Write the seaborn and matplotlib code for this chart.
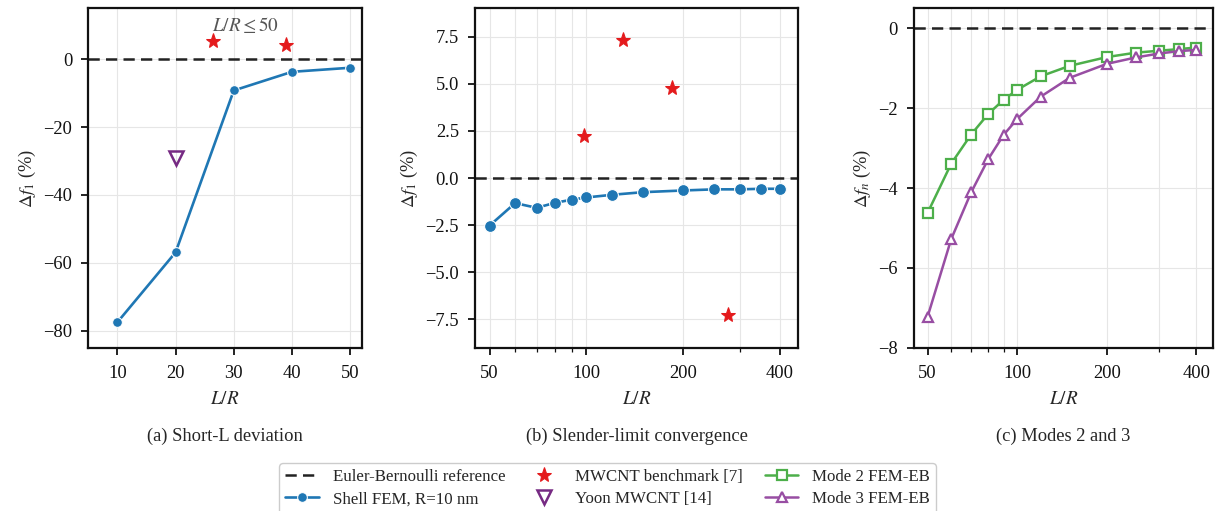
import numpy as np
import pandas as pd
import matplotlib
matplotlib.use("Agg")
import matplotlib.pyplot as plt
from matplotlib.ticker import FixedLocator, FixedFormatter, NullFormatter, LogLocator
import seaborn as sns

# ---- data ----
# (a) short tubes
lr_short = [10, 20, 30, 40, 50]
df_short = [-77.5, -56.9, -9.2, -3.7, -2.5]
bench_short_lr = [26.5, 39.0]
bench_short_df = [5.5, 4.2]
yoon_lr = [20]
yoon_df = [-29.0]

# (b) slender limit, mode 1
lr_long = [50, 60, 70, 80, 90, 100, 120, 150, 200, 250, 300, 350, 400]
df_long = [-2.52, -1.33, -1.58, -1.31, -1.15, -1.03, -0.89, -0.75, -0.66,
           -0.60, -0.60, -0.57, -0.57]
bench_long_lr = [98, 130, 184, 275]
bench_long_df = [2.24, 7.34, 4.78, -7.28]

# (c) higher modes
mode2_df = [-4.62, -3.39, -2.66, -2.14, -1.79, -1.54, -1.20, -0.94, -0.72,
            -0.61, -0.56, -0.52, -0.48]
mode3_df = [-7.22, -5.28, -4.11, -3.27, -2.67, -2.27, -1.71, -1.24, -0.89,
            -0.73, -0.63, -0.57, -0.54]

log_ticks = [50, 100, 200, 400]
captions = ["(a) Short-L deviation", "(b) Slender-limit convergence", "(c) Modes 2 and 3"]

# ---- style ----
sns.set_theme(style="ticks")
plt.rcParams["font.family"] = ["Liberation Serif", "DejaVu Serif"]
plt.rcParams["mathtext.fontset"] = "stix"
plt.rcParams["axes.linewidth"] = 1.6
plt.rcParams["axes.edgecolor"] = "#111111"
plt.rcParams["xtick.major.width"] = 1.3
plt.rcParams["ytick.major.width"] = 1.3
plt.rcParams["xtick.major.size"] = 5
plt.rcParams["ytick.major.size"] = 5
plt.rcParams["xtick.minor.size"] = 3
plt.rcParams["xtick.minor.width"] = 0.9
plt.rcParams["xtick.major.pad"] = 7.5
plt.rcParams["ytick.major.pad"] = 6.5
plt.rcParams["xtick.color"] = "#111111"
plt.rcParams["ytick.color"] = "#111111"

BLUE = "#1f77b4"
RED = "#e41a1c"
DPURPLE = "#762a83"
GREEN = "#4daf4a"
PURPLE = "#984ea3"
FS = 13.3

fig = plt.figure(figsize=(12.2, 5.11), dpi=100)
H = 0.664
B = 0.3196
ax_a = fig.add_axes([0.0724, B, 0.2241, H])
ax_b = fig.add_axes([0.3893, B, 0.2648, H])
ax_c = fig.add_axes([0.7492, B, 0.2451, H])

grid_kw = dict(color="#e6e6e6", linewidth=0.8)
ref_kw = dict(color="#222222", ls="--", lw=1.8, dashes=(4.5, 2.5), zorder=1)

# ---- (a) ----
ax = ax_a
eb = ax.axhline(0, **ref_kw)
sns.lineplot(x=lr_short, y=df_short, ax=ax, color=BLUE, marker="o",
             markersize=7, lw=1.9, zorder=3)
shell_line = ax.lines[-1]
sns.lineplot(x=bench_short_lr, y=bench_short_df, ax=ax, color=RED, marker="*",
             markersize=11, linestyle="none", markeredgecolor=RED, zorder=4)
star_line = ax.lines[-1]
sns.lineplot(x=yoon_lr, y=yoon_df, ax=ax, color=DPURPLE, marker="v",
             markersize=10, linestyle="none", markerfacecolor="none",
             markeredgecolor=DPURPLE, markeredgewidth=1.8, zorder=4)
yoon_line = ax.lines[-1]
ax.set_xlim(5, 52)
ax.set_ylim(-85, 15)
ax.set_xticks(lr_short)
ax.set_yticks([0, -20, -40, -60, -80])
ax.grid(True, which="major", **grid_kw)
ax.text(32, 10, r"$L/R\leq 50$", color="#555555", fontsize=FS + 0.5,
        ha="center", va="center")
ax.set_ylabel(r"$\Delta f_1$ (%)", fontsize=FS)

# ---- (b) ----
ax = ax_b
ax.axhline(0, **ref_kw)
sns.lineplot(x=lr_long, y=df_long, ax=ax, color=BLUE, marker="o",
             markersize=8.5, lw=1.9, zorder=3)
sns.lineplot(x=bench_long_lr, y=bench_long_df, ax=ax, color=RED, marker="*",
             markersize=11, linestyle="none", markeredgecolor=RED, zorder=4)
ax.set_ylim(-9, 9)
ax.set_yticks([-7.5, -5.0, -2.5, 0.0, 2.5, 5.0, 7.5])
ax.set_yticklabels(["\u22127.5", "\u22125.0", "\u22122.5", "0.0", "2.5", "5.0", "7.5"])
ax.set_ylabel(r"$\Delta f_1$ (%)", fontsize=FS)

# ---- (c) ----
ax = ax_c
ax.axhline(0, **ref_kw)
sns.lineplot(x=lr_long, y=mode2_df, ax=ax, color=GREEN, marker="s",
             markersize=7, lw=1.8, markerfacecolor="white",
             markeredgecolor=GREEN, markeredgewidth=1.6, zorder=3)
m2_line = ax.lines[-1]
sns.lineplot(x=lr_long, y=mode3_df, ax=ax, color=PURPLE, marker="^",
             markersize=7.5, lw=1.8, markerfacecolor="white",
             markeredgecolor=PURPLE, markeredgewidth=1.6, zorder=3)
m3_line = ax.lines[-1]
ax.set_ylim(-8, 0.5)
ax.set_yticks([0, -2, -4, -6, -8])
ax.set_ylabel(r"$\Delta f_n$ (%)", fontsize=FS)

for ax in (ax_b, ax_c):
    ax.set_xscale("log")
    ax.set_xlim(45, 455)
    ax.xaxis.set_major_locator(FixedLocator(log_ticks))
    ax.xaxis.set_major_formatter(FixedFormatter([str(t) for t in log_ticks]))
    ax.xaxis.set_minor_locator(LogLocator(base=10, subs=np.arange(2, 10)))
    ax.xaxis.set_minor_formatter(NullFormatter())
    ax.grid(True, which="major", **grid_kw)
    ax.grid(True, which="minor", axis="x", **grid_kw)

for ax, cap in zip((ax_a, ax_b, ax_c), captions):
    ax.set_xlabel(r"$L/R$", fontsize=FS + 0.5, labelpad=6.5)
    ax.tick_params(labelsize=FS)
    ax.text(0.5, -0.262, cap, transform=ax.transAxes, ha="center", va="center",
            fontsize=FS)
    ax.set_axisbelow(True)

handles = [eb, shell_line, star_line, yoon_line, m2_line, m3_line]
labels = ["Euler-Bernoulli reference", "Shell FEM, R=10 nm", "MWCNT benchmark [7]",
          "Yoon MWCNT [14]", "Mode 2 FEM-EB", "Mode 3 FEM-EB"]
leg = fig.legend(handles, labels, loc="lower center", bbox_to_anchor=(0.498, -0.021),
                 ncol=3, fontsize=12.2, frameon=True, fancybox=True,
                 edgecolor="#cccccc", framealpha=1, columnspacing=1.3,
                 handlelength=2.0, handletextpad=0.8, borderpad=0.35,
                 labelspacing=0.35)
leg.get_frame().set_linewidth(1.0)

fig.savefig("out.png", dpi=100)
